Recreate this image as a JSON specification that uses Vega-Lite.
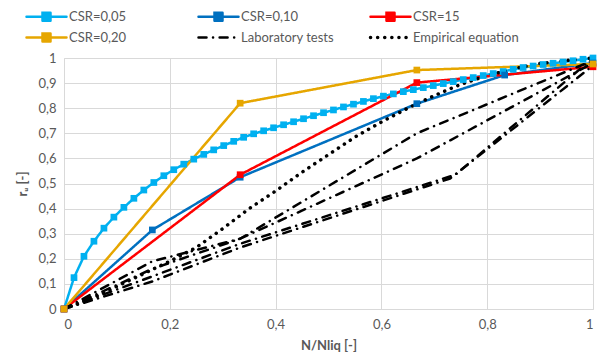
{
  "$schema": "https://vega.github.io/schema/vega-lite/v6.json",
  "width": 529,
  "height": 251,
  "autosize": {"type": "none"},
  "padding": {"left": 64, "top": 58, "right": 15, "bottom": 49},
  "config": {
    "view": {"stroke": null},
    "locale": {"number": {"decimal": ",", "thousands": ".", "grouping": [3], "currency": ["", "€"]}},
    "axis": {
      "labelFont": "Lato", "labelFontSize": 13, "labelColor": "#595959",
      "titleFont": "Lato", "titleFontSize": 13, "titleColor": "#595959", "titleFontWeight": "bold",
      "gridColor": "#D9D9D9", "gridWidth": 1, "domainColor": "#D9D9D9", "domainWidth": 1, "ticks": false
    },
    "legend": {"labelFont": "Lato", "labelFontSize": 13, "labelColor": "#595959"}
  },
  "data": {
    "values": [
      {"s": "CSR=0,05", "c": "a", "x": 0, "y": 0},
      {"s": "CSR=0,05", "c": "a", "x": 0.0189, "y": 0.125},
      {"s": "CSR=0,05", "c": "a", "x": 0.0377, "y": 0.21},
      {"s": "CSR=0,05", "c": "a", "x": 0.0566, "y": 0.27},
      {"s": "CSR=0,05", "c": "a", "x": 0.0755, "y": 0.322},
      {"s": "CSR=0,05", "c": "a", "x": 0.0943, "y": 0.366},
      {"s": "CSR=0,05", "c": "a", "x": 0.1132, "y": 0.405},
      {"s": "CSR=0,05", "c": "a", "x": 0.1321, "y": 0.441},
      {"s": "CSR=0,05", "c": "a", "x": 0.1509, "y": 0.474},
      {"s": "CSR=0,05", "c": "a", "x": 0.1698, "y": 0.504},
      {"s": "CSR=0,05", "c": "a", "x": 0.1887, "y": 0.531},
      {"s": "CSR=0,05", "c": "a", "x": 0.2075, "y": 0.555},
      {"s": "CSR=0,05", "c": "a", "x": 0.2264, "y": 0.577},
      {"s": "CSR=0,05", "c": "a", "x": 0.2453, "y": 0.597},
      {"s": "CSR=0,05", "c": "a", "x": 0.2642, "y": 0.616},
      {"s": "CSR=0,05", "c": "a", "x": 0.283, "y": 0.634},
      {"s": "CSR=0,05", "c": "a", "x": 0.3019, "y": 0.651},
      {"s": "CSR=0,05", "c": "a", "x": 0.3208, "y": 0.668},
      {"s": "CSR=0,05", "c": "a", "x": 0.3396, "y": 0.684},
      {"s": "CSR=0,05", "c": "a", "x": 0.3585, "y": 0.698},
      {"s": "CSR=0,05", "c": "a", "x": 0.3774, "y": 0.71},
      {"s": "CSR=0,05", "c": "a", "x": 0.3962, "y": 0.722},
      {"s": "CSR=0,05", "c": "a", "x": 0.4151, "y": 0.734},
      {"s": "CSR=0,05", "c": "a", "x": 0.434, "y": 0.746},
      {"s": "CSR=0,05", "c": "a", "x": 0.4528, "y": 0.758},
      {"s": "CSR=0,05", "c": "a", "x": 0.4717, "y": 0.77},
      {"s": "CSR=0,05", "c": "a", "x": 0.4906, "y": 0.782},
      {"s": "CSR=0,05", "c": "a", "x": 0.5094, "y": 0.793},
      {"s": "CSR=0,05", "c": "a", "x": 0.5283, "y": 0.805},
      {"s": "CSR=0,05", "c": "a", "x": 0.5472, "y": 0.816},
      {"s": "CSR=0,05", "c": "a", "x": 0.566, "y": 0.827},
      {"s": "CSR=0,05", "c": "a", "x": 0.5849, "y": 0.838},
      {"s": "CSR=0,05", "c": "a", "x": 0.6038, "y": 0.848},
      {"s": "CSR=0,05", "c": "a", "x": 0.6226, "y": 0.857},
      {"s": "CSR=0,05", "c": "a", "x": 0.6415, "y": 0.866},
      {"s": "CSR=0,05", "c": "a", "x": 0.6604, "y": 0.874},
      {"s": "CSR=0,05", "c": "a", "x": 0.6792, "y": 0.882},
      {"s": "CSR=0,05", "c": "a", "x": 0.6981, "y": 0.89},
      {"s": "CSR=0,05", "c": "a", "x": 0.717, "y": 0.898},
      {"s": "CSR=0,05", "c": "a", "x": 0.7358, "y": 0.906},
      {"s": "CSR=0,05", "c": "a", "x": 0.7547, "y": 0.914},
      {"s": "CSR=0,05", "c": "a", "x": 0.7736, "y": 0.922},
      {"s": "CSR=0,05", "c": "a", "x": 0.7925, "y": 0.93},
      {"s": "CSR=0,05", "c": "a", "x": 0.8113, "y": 0.938},
      {"s": "CSR=0,05", "c": "a", "x": 0.8302, "y": 0.946},
      {"s": "CSR=0,05", "c": "a", "x": 0.8491, "y": 0.955},
      {"s": "CSR=0,05", "c": "a", "x": 0.8679, "y": 0.962},
      {"s": "CSR=0,05", "c": "a", "x": 0.8868, "y": 0.968},
      {"s": "CSR=0,05", "c": "a", "x": 0.9057, "y": 0.974},
      {"s": "CSR=0,05", "c": "a", "x": 0.9245, "y": 0.979},
      {"s": "CSR=0,05", "c": "a", "x": 0.9434, "y": 0.984},
      {"s": "CSR=0,05", "c": "a", "x": 0.9623, "y": 0.989},
      {"s": "CSR=0,05", "c": "a", "x": 0.9811, "y": 0.995},
      {"s": "CSR=0,05", "c": "a", "x": 1, "y": 1},
      {"s": "CSR=0,10", "c": "b", "x": 0, "y": 0},
      {"s": "CSR=0,10", "c": "b", "x": 0.167, "y": 0.315},
      {"s": "CSR=0,10", "c": "b", "x": 0.333, "y": 0.525},
      {"s": "CSR=0,10", "c": "b", "x": 0.667, "y": 0.818},
      {"s": "CSR=0,10", "c": "b", "x": 0.833, "y": 0.932},
      {"s": "CSR=0,10", "c": "b", "x": 1, "y": 0.98},
      {"s": "CSR=15", "c": "r", "x": 0, "y": 0},
      {"s": "CSR=15", "c": "r", "x": 0.333, "y": 0.535},
      {"s": "CSR=15", "c": "r", "x": 0.667, "y": 0.902},
      {"s": "CSR=15", "c": "r", "x": 1, "y": 0.965},
      {"s": "CSR=0,20", "c": "g", "x": 0, "y": 0},
      {"s": "CSR=0,20", "c": "g", "x": 0.333, "y": 0.82},
      {"s": "CSR=0,20", "c": "g", "x": 0.667, "y": 0.952},
      {"s": "CSR=0,20", "c": "g", "x": 1, "y": 0.976},
      {"s": "Laboratory tests", "c": "L1", "x": 0, "y": 0},
      {"s": "Laboratory tests", "c": "L1", "x": 0.167, "y": 0.19},
      {"s": "Laboratory tests", "c": "L1", "x": 0.333, "y": 0.28},
      {"s": "Laboratory tests", "c": "L1", "x": 0.667, "y": 0.7},
      {"s": "Laboratory tests", "c": "L1", "x": 1, "y": 0.99},
      {"s": "Laboratory tests", "c": "L2", "x": 0, "y": 0},
      {"s": "Laboratory tests", "c": "L2", "x": 0.167, "y": 0.16},
      {"s": "Laboratory tests", "c": "L2", "x": 0.333, "y": 0.28},
      {"s": "Laboratory tests", "c": "L2", "x": 0.667, "y": 0.6},
      {"s": "Laboratory tests", "c": "L2", "x": 1, "y": 0.98},
      {"s": "Laboratory tests", "c": "L3", "x": 0, "y": 0},
      {"s": "Laboratory tests", "c": "L3", "x": 0.167, "y": 0.13},
      {"s": "Laboratory tests", "c": "L3", "x": 0.333, "y": 0.26},
      {"s": "Laboratory tests", "c": "L3", "x": 0.74, "y": 0.535},
      {"s": "Laboratory tests", "c": "L3", "x": 1, "y": 1},
      {"s": "Laboratory tests", "c": "L4", "x": 0, "y": 0},
      {"s": "Laboratory tests", "c": "L4", "x": 0.167, "y": 0.11},
      {"s": "Laboratory tests", "c": "L4", "x": 0.333, "y": 0.245},
      {"s": "Laboratory tests", "c": "L4", "x": 0.73, "y": 0.52},
      {"s": "Laboratory tests", "c": "L4", "x": 1, "y": 0.97},
      {"s": "Empirical equation", "c": "E", "x": 0, "y": 0},
      {"s": "Empirical equation", "c": "E", "x": 0.05, "y": 0.04},
      {"s": "Empirical equation", "c": "E", "x": 0.1, "y": 0.09},
      {"s": "Empirical equation", "c": "E", "x": 0.15, "y": 0.14},
      {"s": "Empirical equation", "c": "E", "x": 0.2, "y": 0.19},
      {"s": "Empirical equation", "c": "E", "x": 0.25, "y": 0.245},
      {"s": "Empirical equation", "c": "E", "x": 0.3, "y": 0.32},
      {"s": "Empirical equation", "c": "E", "x": 0.35, "y": 0.4},
      {"s": "Empirical equation", "c": "E", "x": 0.4, "y": 0.47},
      {"s": "Empirical equation", "c": "E", "x": 0.45, "y": 0.545},
      {"s": "Empirical equation", "c": "E", "x": 0.5, "y": 0.615},
      {"s": "Empirical equation", "c": "E", "x": 0.55, "y": 0.685},
      {"s": "Empirical equation", "c": "E", "x": 0.6, "y": 0.745},
      {"s": "Empirical equation", "c": "E", "x": 0.65, "y": 0.8},
      {"s": "Empirical equation", "c": "E", "x": 0.7, "y": 0.85},
      {"s": "Empirical equation", "c": "E", "x": 0.75, "y": 0.895},
      {"s": "Empirical equation", "c": "E", "x": 0.8, "y": 0.93},
      {"s": "Empirical equation", "c": "E", "x": 0.85, "y": 0.957},
      {"s": "Empirical equation", "c": "E", "x": 0.9, "y": 0.978},
      {"s": "Empirical equation", "c": "E", "x": 0.95, "y": 0.99},
      {"s": "Empirical equation", "c": "E", "x": 1, "y": 1}
    ]
  },
  "encoding": {
    "x": {"field": "x", "type": "quantitative", "scale": {"domain": [0, 1], "nice": false},
      "axis": {"values": [0, 0.2, 0.4, 0.6, 0.8, 1], "format": ".1~f", "labelPadding": 9, "title": "N/Nliq [-]", "titlePadding": 8}},
    "y": {"field": "y", "type": "quantitative", "scale": {"domain": [0, 1], "nice": false},
      "axis": {"values": [0, 0.1, 0.2, 0.3, 0.4, 0.5, 0.6, 0.7, 0.8, 0.9, 1], "format": ".1~f", "labelPadding": 8, "title": "rᵤ [-]", "titlePadding": 8}}
  },
  "layer": [
    {
      "transform": [{"filter": "datum.s != 'Empirical equation'"}],
      "mark": {"type": "line", "strokeWidth": 2.5, "strokeCap": "round", "strokeJoin": "round"},
      "encoding": {
        "color": {"field": "s", "type": "nominal",
          "scale": {"domain": ["CSR=0,05", "CSR=0,10", "CSR=15", "CSR=0,20", "Laboratory tests", "Empirical equation"],
            "range": ["#00B0F0", "#0070C0", "#FF0000", "#E6A600", "#000000", "#000000"]},
          "legend": {"title": null, "orient": "none", "legendX": -39, "legendY": -48, "columns": 3, "direction": "horizontal",
            "gridAlign": "all", "columnPadding": 16, "rowPadding": 2, "padding": 0, "labelOffset": 31, "symbolSize": 100,
            "encode": {"symbols": {"update": {
              "shape": {"signal": "(datum.value == 'Laboratory tests' || datum.value == 'Empirical equation') ? 'M-1,0H7' : 'M-1,0H7M2.2,-0.8H3.8V0.8H2.2Z'"},
              "fill": {"scale": "color", "field": "value"},
              "strokeCap": {"value": "round"},
              "strokeWidth": {"signal": "datum.value == 'Empirical equation' ? 3.5 : 2.5"},
              "size": {"value": 100}
            }}}}},
        "strokeDash": {"field": "s", "type": "nominal",
          "scale": {"domain": ["CSR=0,05", "CSR=0,10", "CSR=15", "CSR=0,20", "Laboratory tests", "Empirical equation"],
            "range": [[1, 0], [1, 0], [1, 0], [1, 0], [8, 6.5, 0.1, 6.5], [0.1, 7]]},
          "legend": {"title": null, "orient": "none", "legendX": -39, "legendY": -48, "columns": 3, "direction": "horizontal",
            "gridAlign": "all", "columnPadding": 16, "rowPadding": 2, "padding": 0, "labelOffset": 31, "symbolSize": 100}},
        "detail": {"field": "c"}
      }
    },
    {
      "transform": [{"filter": "datum.s == 'Empirical equation'"}],
      "mark": {"type": "line", "strokeWidth": 3.5, "strokeCap": "round"},
      "encoding": {
        "color": {"field": "s", "type": "nominal"},
        "strokeDash": {"field": "s", "type": "nominal"},
        "detail": {"field": "c"}
      }
    },
    {
      "transform": [{"filter": "indexof(['CSR=0,05','CSR=0,10','CSR=15','CSR=0,20'], datum.s) >= 0"}],
      "mark": {"type": "point", "shape": "square", "filled": true, "size": 45, "opacity": 1},
      "encoding": {
        "color": {"field": "s", "type": "nominal"}
      }
    }
  ]
}
